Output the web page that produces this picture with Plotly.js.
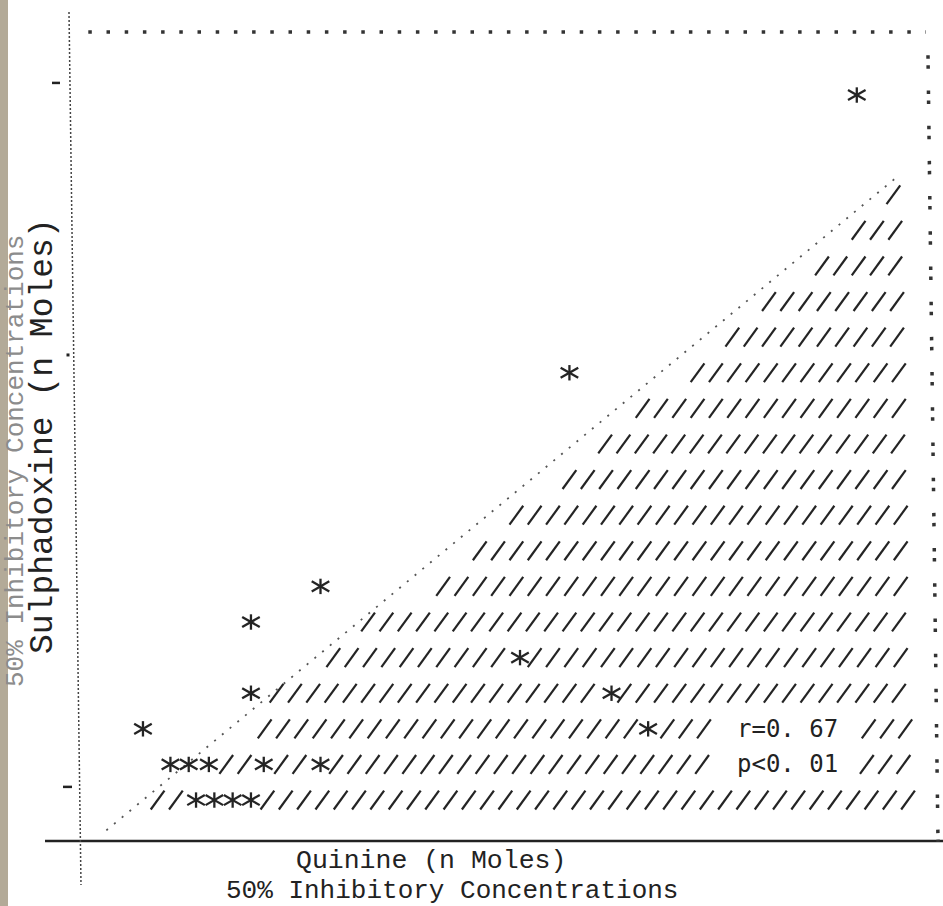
<!DOCTYPE html>
<html>
<head>
<meta charset="utf-8">
<script src="https://cdn.plot.ly/plotly-3.0.1.min.js"></script>
<style>html,body{margin:0;padding:0;background:#fff}</style>
</head>
<body>
<div id="chart" style="width:943px;height:906px"></div>
<script>
// Values in the grid units of the typewritten plot (x: character columns, y: printed lines)
const quinine      = [41.8, 26.1, 12.5, 8.7, 8.7, 23.4, 28.4, 30.4, 2.8, 4.3, 5.3, 6.4, 9.4, 12.5, 5.7, 6.7, 7.7, 8.7];
const sulphadoxine = [20.8, 13,   7,    6,   4,   5,    4,    3,    3,   2,   2,   2,   2,   2,    1,   1,   1,   1];

// Hatched zone below the diagonal: one typed row of "/" per line, from a start column to the right edge
const hatchRow  = [1,   2,    3,    4,    5,    6,    7,    8,    9,    10,   11,    12,   13,   14,   15,   16,   17,   18];
const hatchFrom = [3.6, 7.35, 9.45, 10.1, 13.2, 15.1, 19.2, 21.2, 23.2, 26.1, 28.05, 30.1, 33.1, 35.0, 37.0, 39.9, 41.9, 43.8];
const hatchEnd  = 44.6;

// Dotted diagonal
const diagQuinine = [0.8, 44.0];
const diagSulpha  = [0.15, 18.5];

// Tick marks on the Sulphadoxine axis
const yTicks = [21.14, 13.5, 1.37];

// Statistics typed inside the hatch
const statLabels = ["r=0. 67", "p<0. 01"];
const statRows   = [3, 2];
const statGap    = [34, 42];

// ---- build the hatch positions ----
const hx = [], hy = [];
hatchRow.forEach((r, i) => {
  for (let n = 0; hatchFrom[i] + n <= hatchEnd + 1e-6; n++) {
    const c = +(hatchFrom[i] + n).toFixed(2);
    const onStar = quinine.some((q, j) => sulphadoxine[j] === r && Math.abs(q - c) < 0.5);
    const onStat = statRows.includes(r) && c > statGap[0] && c < statGap[1];
    if (!onStar && !onStat) { hx.push(c); hy.push(r); }
  }
});

const ink = '#242424';
const W = 943, H = 906, L = 80, R = 13, T = 32, B = 65;
const pw = W - L - R, ph = H - T - B;
const px = v => (v - L) / pw;          // pixel x -> paper
const py = v => (H - B - v) / ph;      // pixel y -> paper

const traces = [
  { type: 'scatter', mode: 'markers', x: hx, y: hy, hoverinfo: 'skip', showlegend: false,
    marker: { symbol: 'line-ne-open', size: 16.5, angle: -9, color: ink, line: { color: ink, width: 2.2 } } },
  { type: 'scatter', mode: 'lines', x: diagQuinine, y: diagSulpha, hoverinfo: 'skip', showlegend: false,
    line: { color: '#555', width: 1.8, dash: '2px,8px' } },
  { type: 'scatter', mode: 'markers', x: quinine, y: sulphadoxine, showlegend: false,
    marker: { symbol: 'line-ns-open', size: 11, color: ink, line: { color: ink, width: 2.3 } } },
  { type: 'scatter', mode: 'markers', x: quinine, y: sulphadoxine, showlegend: false, hoverinfo: 'skip',
    marker: { symbol: 'line-ew-open', size: 14.5, angle: 30, color: ink, line: { color: ink, width: 2.3 } } },
  { type: 'scatter', mode: 'markers', x: quinine, y: sulphadoxine, showlegend: false, hoverinfo: 'skip',
    marker: { symbol: 'line-ew-open', size: 14.5, angle: -30, color: ink, line: { color: ink, width: 2.3 } } }
];

const shapes = [
  // binding shadow at the left edge
  { type: 'rect', xref: 'paper', yref: 'paper', x0: px(0), x1: px(8), y0: py(H), y1: py(0),
    fillcolor: '#b3aa98', line: { width: 0 }, layer: 'below' },
  // bottom axis (solid)
  { type: 'line', xref: 'paper', yref: 'paper', x0: px(45), x1: px(943), y0: 0, y1: 0,
    line: { color: '#222', width: 2.5 } },
  // left axis (fine dotted)
  { type: 'line', xref: 'paper', yref: 'paper', x0: px(69), x1: px(81), y0: py(12), y1: py(885),
    line: { color: '#444', width: 1.5, dash: '2px,2px' } },
  // top border of spaced dots
  { type: 'line', xref: 'paper', yref: 'paper', x0: px(88.3), x1: px(926), y0: 1, y1: 1,
    line: { color: '#333', width: 3.5, dash: '3.5px,14.7px' } },
  // right border of colons
  { type: 'line', xref: 'paper', yref: 'paper', x0: px(928), x1: px(938), y0: py(55.3), y1: py(842),
    line: { color: '#333', width: 3.5, dash: '3.5px,6.5px,3.5px,21.7px' } }
];
// tick marks left of the vertical axis
const tickX = [[52, 60], [66.5, 69.5], [63, 72]];
yTicks.forEach((t, i) => {
  shapes.push({ type: 'line', xref: 'paper', yref: 'y', x0: px(tickX[i][0]), x1: px(tickX[i][1]), y0: t, y1: t,
    line: { color: '#222', width: i === 1 ? 3 : 2.5 } });
});

const mono = 'Liberation Mono, Courier New, monospace';
const annotations = [
  { text: '50% Inhibitory Concentrations', xref: 'paper', yref: 'paper', x: px(16), y: py(461), textangle: -90,
    showarrow: false, xanchor: 'center', yanchor: 'middle', font: { family: mono, size: 26, color: '#8c8c8c' } },
  { text: 'Sulphadoxine (n Moles)', xref: 'paper', yref: 'paper', x: px(43), y: py(436), textangle: -90,
    showarrow: false, xanchor: 'center', yanchor: 'middle', font: { family: mono, size: 33, color: '#222' } },
  { text: 'Quinine (n Moles)', xref: 'paper', yref: 'paper', x: px(431), y: py(860.5),
    showarrow: false, xanchor: 'center', yanchor: 'middle', font: { family: mono, size: 26.5, color: '#222' } },
  { text: '50% Inhibitory Concentrations', xref: 'paper', yref: 'paper', x: px(452), y: py(890.5),
    showarrow: false, xanchor: 'center', yanchor: 'middle', font: { family: mono, size: 26, color: '#222' } }
];
statLabels.forEach((s, i) => {
  annotations.push({ text: s, xref: 'x', yref: 'y', x: 38.0, y: statRows[i], showarrow: false,
    xanchor: 'center', yanchor: 'middle', font: { family: 'DejaVu Sans Mono, monospace', size: 24, color: '#222' } });
});

const hidden = { showgrid: false, zeroline: false, showline: false, showticklabels: false, ticks: '', fixedrange: true };
const layout = {
  width: W, height: H,
  margin: { l: L, r: R, t: T, b: B, pad: 0 },
  paper_bgcolor: '#ffffff', plot_bgcolor: '#ffffff',
  showlegend: false,
  xaxis: Object.assign({ range: [-0.64, 45.8] }, hidden),
  yaxis: Object.assign({ range: [-0.15, 22.57] }, hidden),
  shapes, annotations
};

Plotly.newPlot('chart', traces, layout, { staticPlot: true, displayModeBar: false });
</script>
</body>
</html>
